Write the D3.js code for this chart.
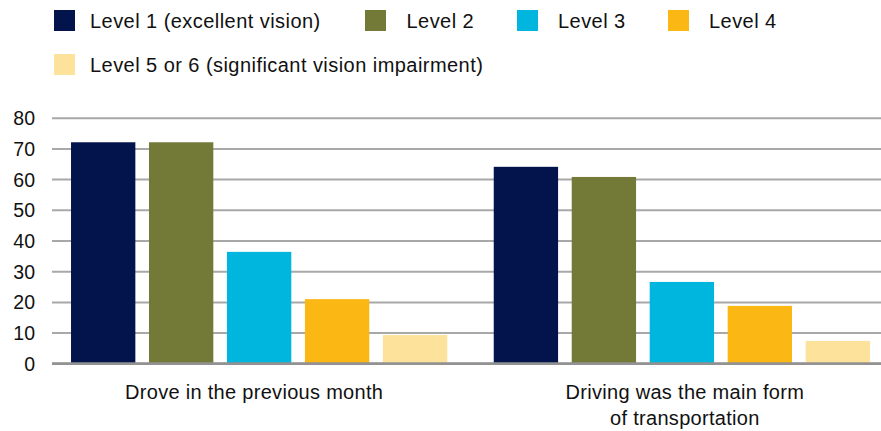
<!DOCTYPE html>
<html>
<head>
<meta charset="utf-8">
<script src="https://cdn.jsdelivr.net/npm/d3@7"></script>
<style>
  html, body { margin: 0; padding: 0; background: #fff; }
  svg { display: block; font-family: "Liberation Sans", Arial, Helvetica, sans-serif; }
</style>
</head>
<body>
<svg id="chart" width="881" height="431"></svg>
<script>
const categories = ["Drove in the previous month", "Driving was the main form of transportation"];
const categoryLines = [["Drove in the previous month"], ["Driving was the main form", "of transportation"]];
const seriesNames = ["Level 1 (excellent vision)", "Level 2", "Level 3", "Level 4", "Level 5 or 6 (significant vision impairment)"];
const level1 = [72, 64];
const level2 = [72, 60.7];
const level3 = [36.3, 26.5];
const level4 = [20.9, 18.7];
const level5 = [9.2, 7.3];
const seriesValues = [level1, level2, level3, level4, level5];
const seriesColors = ["#02144b", "#737936", "#00b5de", "#fbb814", "#fde29b"];
const yTicks = [0, 10, 20, 30, 40, 50, 60, 70, 80];

const W = 881, H = 431;
const svg = d3.select("#chart");
const plotLeft = 52, plotRight = 881;

const y = d3.scaleLinear().domain([0, 80]).range([363.3, 117.7]);
const x0 = d3.scaleBand().domain(categories).range([52, 889]).paddingInner(0.11).paddingOuter(0.045);
const x1 = d3.scaleBand().domain(seriesNames).range([0, x0.bandwidth()]).paddingInner(0.175);

// gridlines + y labels
const yAxis = d3.axisLeft(y).tickValues(yTicks).tickSize(-(plotRight - plotLeft)).tickPadding(17).tickFormat(d3.format("d"));
const gy = svg.append("g").attr("transform", `translate(${plotLeft},0)`).call(yAxis);
gy.select(".domain").remove();
gy.selectAll(".tick line").attr("stroke", "#a8a8a8").attr("stroke-width", 2);
gy.selectAll(".tick text").attr("fill", "#111").style("font-size", "19.5px").attr("dy", "0.36em");

// bars
const groups = svg.append("g").selectAll("g").data(categories).join("g")
  .attr("transform", d => `translate(${x0(d)},0)`);
groups.selectAll("rect")
  .data((c, ci) => seriesNames.map((s, si) => ({ s, si, v: seriesValues[si][ci] })))
  .join("rect")
  .attr("x", d => x1(d.s))
  .attr("width", x1.bandwidth())
  .attr("y", d => y(d.v))
  .attr("height", d => y(0) - y(d.v))
  .attr("fill", d => seriesColors[d.si]);

// baseline
svg.append("line")
  .attr("x1", plotLeft).attr("x2", plotRight)
  .attr("y1", y(0) + 0.4).attr("y2", y(0) + 0.4)
  .attr("stroke", "#929292").attr("stroke-width", 2.8);

// category labels
const catG = svg.append("g");
categories.forEach((c, i) => {
  const t = catG.append("text")
    .attr("text-anchor", "middle")
    .attr("fill", "#111")
    .style("font-size", "20px")
    .style("letter-spacing", "0.3px");
  categoryLines[i].forEach((ln, li) => {
    t.append("tspan")
      .attr("x", x0(c) + x0.bandwidth() / 2 + (i === 0 ? -5 : 3))
      .attr("y", 399 + li * 25.5)
      .text(ln);
  });
});

// legend (layout positions)
const legendSwatchX = [54, 365, 517, 668, 54];
const legendTextOffset = [36, 41.5, 41, 41, 36];
const legendRowY = [10, 10, 10, 10, 54];
const leg = svg.append("g");
seriesNames.forEach((s, i) => {
  const g = leg.append("g").attr("transform", `translate(${legendSwatchX[i]},${legendRowY[i]})`);
  g.append("rect").attr("width", 21).attr("height", 21).attr("fill", seriesColors[i]);
  g.append("text").attr("x", legendTextOffset[i]).attr("y", 18).attr("fill", "#111")
    .style("font-size", "20px").style("letter-spacing", "0.45px").text(s);
});
</script>
</body>
</html>
